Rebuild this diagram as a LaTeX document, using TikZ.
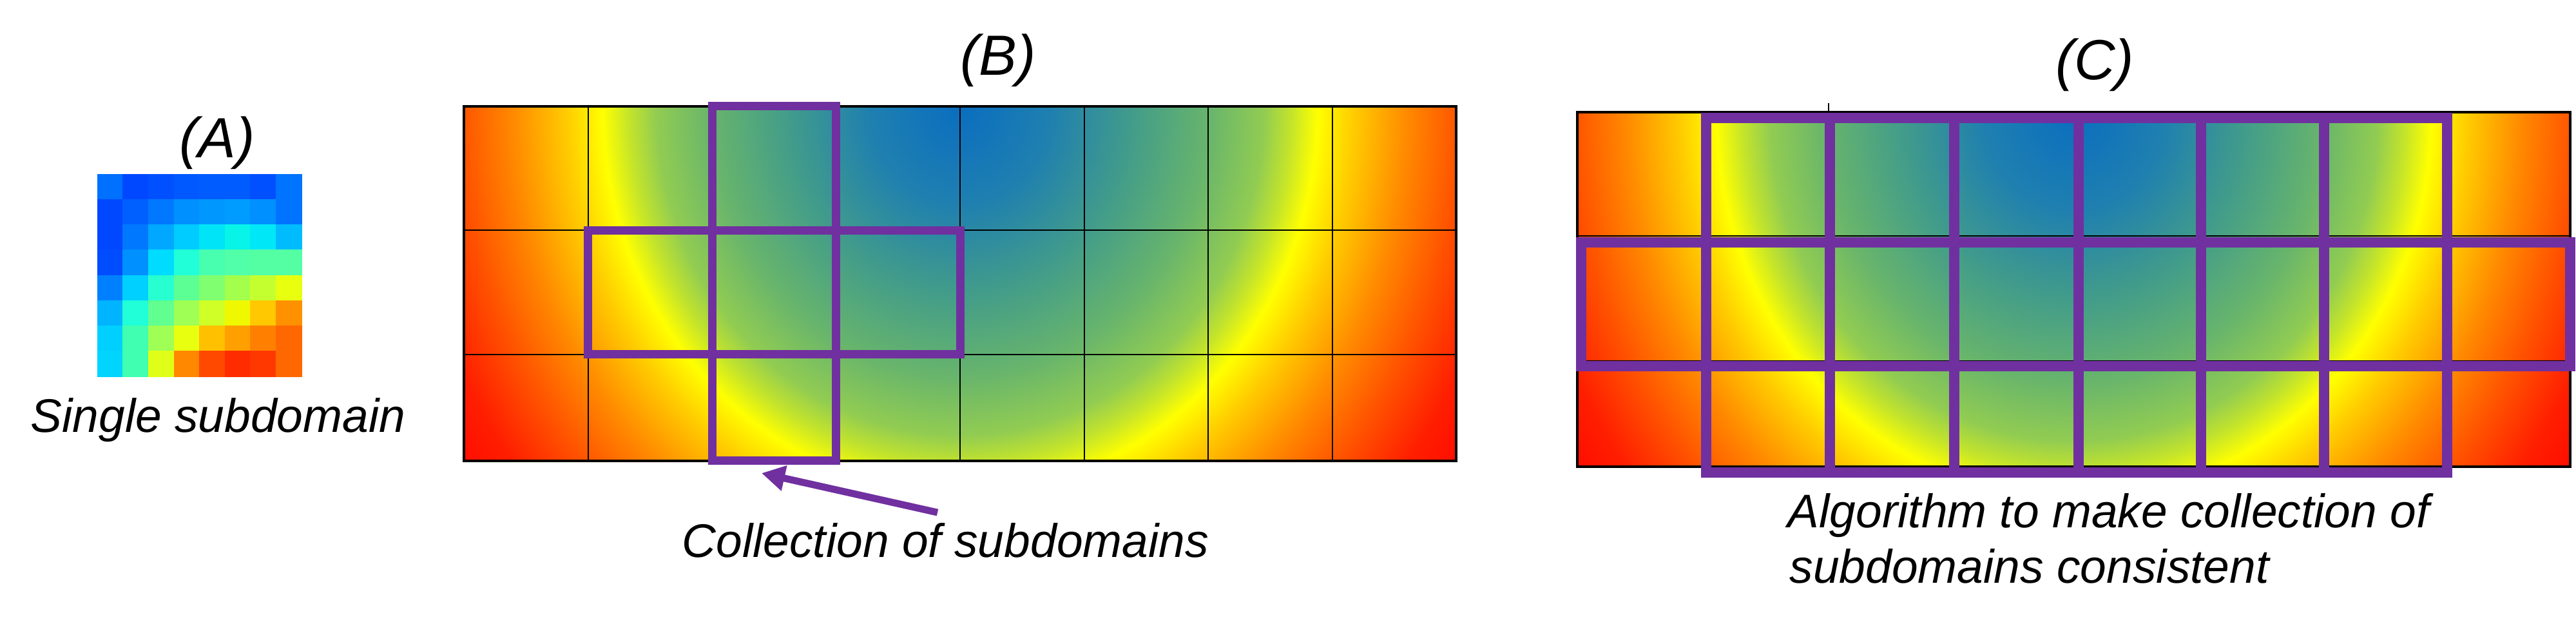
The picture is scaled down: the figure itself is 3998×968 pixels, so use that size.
\documentclass[tikz,border=0pt]{standalone}
\usepackage{fontspec}
\setmainfont{Liberation Sans}
\usetikzlibrary{arrows.meta}
\definecolor{subpurple}{RGB}{112,48,160}
\pgfdeclareradialshading{fieldshade}{\pgfpoint{0bp}{0bp}}{%
rgb(0bp)=(0.04,0.43,0.75);
rgb(3.125bp)=(0.12,0.50,0.69);
rgb(6.25bp)=(0.27,0.62,0.53);
rgb(8.75bp)=(0.41,0.71,0.42);
rgb(10.625bp)=(0.57,0.80,0.32);
rgb(11.625bp)=(0.78,0.90,0.16);
rgb(12.5bp)=(1,1,0);
rgb(13.75bp)=(1,0.80,0);
rgb(15.625bp)=(1,0.54,0);
rgb(17.5bp)=(1,0.32,0);
rgb(19.375bp)=(1,0.12,0);
rgb(21.25bp)=(1,0.03,0);
rgb(71bp)=(1,0,0)}
\begin{document}
\begin{tikzpicture}[x=0.01cm,y=-0.01cm,
  gridthin/.style={black,line width=0.57pt},
  gridborder/.style={black,line width=1.3pt},
  purpleB/.style={draw=subpurple,line width=3.7pt},
  purpleC/.style={draw=subpurple,line width=4.3pt},
  panellabel/.style={inner sep=0pt,anchor=base,font=\fontsize{25}{30}\selectfont\itshape},
  captiontext/.style={inner sep=0pt,anchor=base west,font=\fontsize{20.8}{25}\selectfont\itshape},
  purplearrow/.style={subpurple,line width=3.1pt,-{Triangle[length=0.36cm,width=0.38cm]}}]
\useasboundingbox (0,0) rectangle (3998,968);

% ---------- Panel A: single subdomain ----------
\foreach \rowlist [count=\i from 0] in {
 {0/112/255,0/72/255,0/80/255,0/88/255,0/92/255,0/92/255,0/80/255,0/116/255},
 {0/72/255,0/96/255,0/120/255,0/144/255,0/152/255,0/156/255,0/144/255,0/116/255},
 {0/72/255,0/120/255,0/168/255,0/204/255,0/228/248,8/244/232,0/232/248,0/188/255},
 {0/76/255,0/144/255,0/220/255,32/255/215,72/255/176,80/255/168,84/255/164,84/255/164},
 {0/128/255,0/208/255,40/255/208,92/255/148,128/255/112,164/255/76,196/255/48,232/255/16},
 {0/180/255,32/255/215,96/255/144,160/255/84,208/255/40,240/248/0,255/200/0,255/144/0},
 {0/208/255,64/255/176,160/255/84,232/255/16,255/192/0,255/160/0,255/128/0,255/104/0},
 {0/212/255,64/255/176,224/255/24,255/136/0,255/72/0,255/44/0,255/56/0,255/104/0}}{
  \foreach \colR/\colG/\colB [count=\j from 0] in \rowlist {
    \definecolor{cellc}{RGB}{\colR,\colG,\colB}
    \fill[cellc,draw=cellc,line width=0.2pt] ({151+\j*39.625},{270+\i*39.25}) rectangle ({151+(\j+1)*39.625},{270+(\i+1)*39.25});
  }
}
\node[panellabel] (labA) at (337,245) {(A)};
\node[captiontext] (capA) at (47,671) {Single subdomain};

% ---------- Panel B ----------
\begin{scope}
  \clip (720,165) rectangle (2260,715);
  \shade[shading=fieldshade] (380,-1035) rectangle (2600,1365);
\end{scope}
\foreach \k in {1,...,7} \draw[gridthin] ({720+192.5*\k},165) -- ({720+192.5*\k},715);
\foreach \yy in {357.5,550} \draw[gridthin] (720,\yy) -- (2260,\yy);
\draw[gridborder] (720,165) rectangle (2260,715);
\draw[purpleB] (1105,165) rectangle (1297.5,357.5);
\draw[purpleB] (912.5,357.5) rectangle (1105,550);
\draw[purpleB] (1105,357.5) rectangle (1297.5,550);
\draw[purpleB] (1297.5,357.5) rectangle (1490,550);
\draw[purpleB] (1105,550) rectangle (1297.5,715);
\node[panellabel] (labB) at (1549,117) {(B)};
\node[captiontext] (capB) at (1058,865) {Collection of subdomains};
\coordinate (arrtail) at (1455,795);
\coordinate (arrtip) at (1182,734);
\draw[purplearrow] (arrtail) -- (arrtip);

% ---------- Panel C ----------
\begin{scope}
  \clip (2448,174) rectangle (3989,724);
  \shade[shading=fieldshade] (2108.5,-1026) rectangle (4328.5,1374);
\end{scope}
\foreach \k in {1,...,7} \draw[gridthin] ({2448+192.625*\k},174) -- ({2448+192.625*\k},724);
\foreach \yy in {366,560} \draw[gridthin] (2448,\yy) -- (3989,\yy);
\draw[gridborder] (2448,174) rectangle (3989,724);
\draw[gridthin] (2838,160) -- (2838,174);
\foreach \xa/\xb in {2648/2840,2840/3033,3033/3226,3226/3416,3416/3607,3607/3798}{
  \draw[purpleC] (\xa,183) rectangle (\xb,376);
  \draw[purpleC] (\xa,568) rectangle (\xb,733);
}
\foreach \xa/\xb in {2454/2648,2648/2840,2840/3033,3033/3226,3226/3416,3416/3607,3607/3798,3798/3989}
  \draw[purpleC] (\xa,376) rectangle (\xb,568);
\node[panellabel] (labC) at (3251,124) {(C)};
\node[captiontext] (capC1) at (2774,819) {Algorithm to make collection of};
\node[captiontext] (capC2) at (2777,905) {subdomains consistent};
\end{tikzpicture}
\end{document}
